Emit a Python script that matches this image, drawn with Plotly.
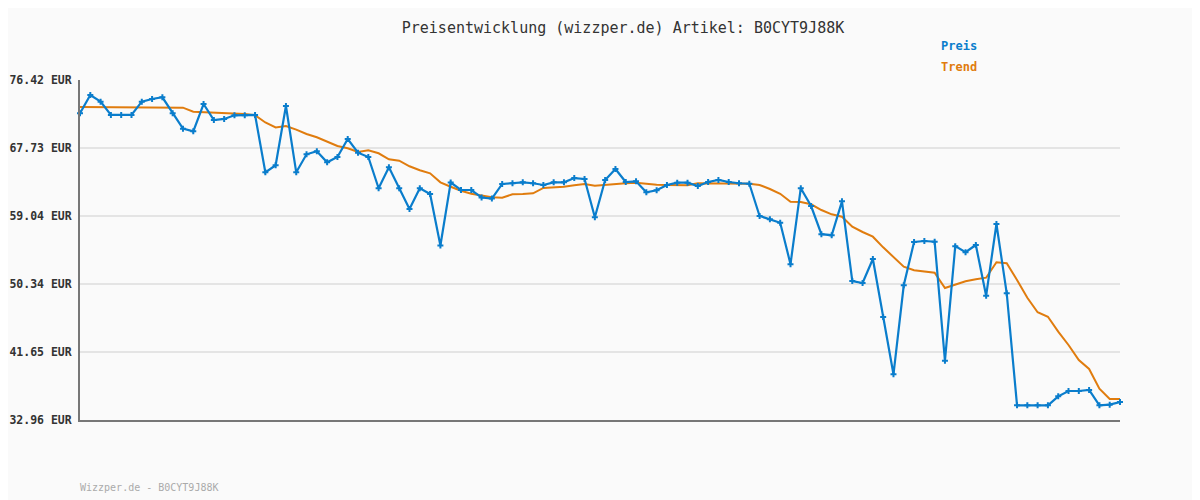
import plotly.graph_objects as go

title_text = "Preisentwicklung (wizzper.de) Artikel: B0CYT9J88K"
footer_text = "Wizzper.de - B0CYT9J88K"
series_names = ["Preis", "Trend"]

y_tick_values = [32.96, 41.65, 50.34, 59.04, 67.73, 76.42]
y_tick_labels = ["32.96 EUR", "41.65 EUR", "50.34 EUR", "59.04 EUR", "67.73 EUR", "76.42 EUR"]

preis = [
    72.16, 74.50, 73.65, 71.95, 71.95, 71.95, 73.65, 73.99, 74.21, 72.16,
    70.20, 69.86, 73.35, 71.31, 71.44, 71.91, 71.91, 71.95, 64.62, 65.52,
    73.10, 64.62, 66.92, 67.31, 65.90, 66.58, 68.88, 67.13, 66.58, 62.58,
    65.26, 62.58, 59.93, 62.58, 61.85, 55.27, 63.32, 62.36, 62.36, 61.40,
    61.27, 63.13, 63.22, 63.34, 63.22, 63.00, 63.34, 63.34, 63.89, 63.77,
    58.87, 63.64, 65.04, 63.38, 63.47, 62.07, 62.32, 63.00, 63.29, 63.29,
    62.87, 63.38, 63.64, 63.38, 63.22, 63.16, 59.04, 58.61, 58.17, 52.88,
    62.59, 60.31, 56.71, 56.58, 60.91, 50.73, 50.47, 53.54, 46.13, 38.80,
    50.18, 55.71, 55.84, 55.75, 40.54, 55.18, 54.40, 55.33, 48.85, 58.01,
    49.16, 34.84, 34.84, 34.84, 34.84, 35.99, 36.67, 36.67, 36.80, 34.84,
    34.92, 35.26,
]

trend = [
    72.97, 72.97, 72.97, 72.97, 72.97, 72.97, 72.97, 72.97, 72.97, 72.97,
    72.88, 72.37, 72.33, 72.24, 72.24, 72.20, 72.07, 71.91, 70.99, 70.35,
    70.54, 70.07, 69.52, 69.10, 68.50, 67.98, 67.69, 67.22, 67.43, 67.05,
    66.28, 66.10, 65.39, 64.88, 64.49, 63.34, 62.78, 62.27, 61.89, 61.68,
    61.43, 61.38, 61.81, 61.85, 61.94, 62.62, 62.66, 62.78, 62.96, 63.13,
    62.91, 63.04, 63.13, 63.22, 63.29, 63.13, 63.04, 63.00, 62.96, 62.96,
    63.22, 63.22, 63.22, 63.16, 63.16, 63.16, 63.00, 62.49, 61.87, 60.86,
    60.83, 60.53, 59.80, 59.25, 58.95, 57.67, 56.99, 56.39, 55.03, 53.76,
    52.56, 52.10, 51.97, 51.79, 49.83, 50.22, 50.69, 50.94, 51.15, 53.12,
    52.99, 50.86, 48.59, 46.73, 46.16, 44.25, 42.55, 40.63, 39.48, 36.96,
    35.64, 35.64,
]

x_idx = list(range(len(preis)))

BLUE = "#0a7dcc"
ORANGE = "#e07c0e"
MONO = "DejaVu Sans Mono"

# page body has an 8px margin; the figure is sized/offset to compensate
W, H = 1192, 492

fig = go.Figure()
fig.add_trace(go.Scatter(
    x=x_idx, y=trend, mode="lines", name=series_names[1],
    line=dict(color=ORANGE, width=2), cliponaxis=False, hoverinfo="skip",
))
fig.add_trace(go.Scatter(
    x=x_idx, y=preis, mode="lines+markers", name=series_names[0],
    line=dict(color=BLUE, width=2.2),
    marker=dict(symbol="cross", size=5, color=BLUE, line=dict(width=0)),
    cliponaxis=False,
))

fig.update_layout(
    width=W, height=H,
    paper_bgcolor="#fafafa", plot_bgcolor="#fafafa",
    margin=dict(l=72, r=80, t=72, b=80, autoexpand=False),
    showlegend=False,
    title=dict(
        text=title_text, x=(623 - 8) / W, xanchor="center", y=1 - 20 / H, yanchor="middle",
        font=dict(family=MONO, size=15, color="#333333"),
    ),
    xaxis=dict(
        range=[0, len(preis) - 1], showgrid=False, zeroline=False,
        showticklabels=False, ticks="", automargin=False,
        showline=True, linecolor="#777777", linewidth=2,
    ),
    yaxis=dict(
        range=[y_tick_values[0], y_tick_values[-1]],
        tickmode="array", tickvals=y_tick_values, ticktext=y_tick_labels,
        showgrid=True, gridcolor="#e4e4e4", gridwidth=2,
        zeroline=False, automargin=False,
        showline=True, linecolor="#777777", linewidth=2,
        ticks="outside", ticklen=4, tickcolor="rgba(0,0,0,0)",
        tickfont=dict(family=MONO, size=11.5, color="#333333", weight="bold"),
    ),
    annotations=[
        dict(text=series_names[0], xref="paper", yref="paper", x=(939 - 80) / 1040,
             y=(420 - 46) / 340, xanchor="left", yanchor="middle", showarrow=False,
             font=dict(family=MONO, size=12, color=BLUE, weight="bold")),
        dict(text=series_names[1], xref="paper", yref="paper", x=(939 - 80) / 1040,
             y=(420 - 67) / 340, xanchor="left", yanchor="middle", showarrow=False,
             font=dict(family=MONO, size=12, color=ORANGE, weight="bold")),
        dict(text=footer_text, xref="paper", yref="paper", x=-2 / 1040,
             y=(420 - 487) / 340, xanchor="left", yanchor="middle", showarrow=False,
             font=dict(family=MONO, size=10, color="#aaaaaa")),
    ],
)

fig.write_html("out.html")
